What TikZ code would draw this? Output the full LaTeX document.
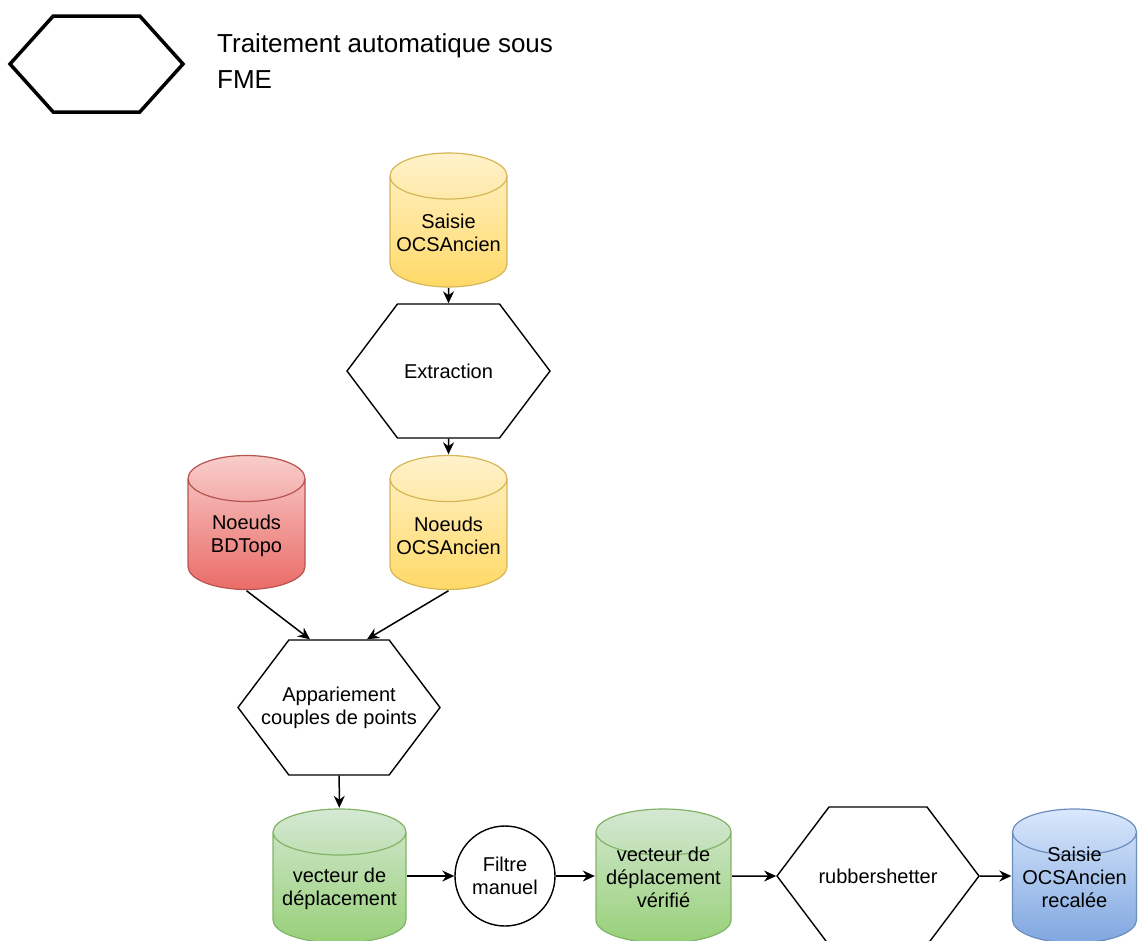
\documentclass[tikz,border=0pt]{standalone}
\usepackage{fontspec}
\setmainfont{Liberation Sans}
\usetikzlibrary{arrows.meta,shapes.symbols,calc}

\definecolor{yelTop}{HTML}{FFF2CC}
\definecolor{yelBot}{HTML}{FFD966}
\definecolor{yelLine}{HTML}{D6B656}
\definecolor{redTop}{HTML}{F8CECC}
\definecolor{redBot}{HTML}{EA6B66}
\definecolor{redLine}{HTML}{B85450}
\definecolor{grnTop}{HTML}{D5E8D4}
\definecolor{grnBot}{HTML}{97D077}
\definecolor{grnLine}{HTML}{82B366}
\definecolor{bluTop}{HTML}{DAE8FC}
\definecolor{bluBot}{HTML}{7EA6E0}
\definecolor{bluLine}{HTML}{6C8EBF}

\newcommand{\flowfont}{\fontsize{20}{23}\selectfont}
\newcommand{\dbbody}[1]{%
  \path[top color=#1Top, bottom color=#1Bot, draw=#1Line, line width=1.2pt]
    let \p1=(path picture bounding box.north west),
        \p2=(path picture bounding box.south east),
        \n1={(\x2-\x1)/2-1pt} in
    (\x1+1pt,\y1-24pt) -- (\x1+1pt,\y2+24pt)
    arc[start angle=180, end angle=360, x radius=\n1, y radius=23pt]
    -- (\x2-1pt,\y1-24pt)
    arc[start angle=0, end angle=180, x radius=\n1, y radius=23pt] -- cycle
    (\x1+1pt,\y1-24pt)
    arc[start angle=180, end angle=360, x radius=\n1, y radius=23pt];}

\begin{document}
\begin{tikzpicture}[
  x=1pt, y=-1pt,
  proc/.style={draw, signal, signal to=west and east, signal pointer angle=106,
               minimum width=203pt, minimum height=134pt,
               inner xsep=-30pt, inner ysep=0pt,
               line width=1.4pt, font=\flowfont, align=center},
  db/.style={minimum width=119pt, minimum height=136pt, inner sep=0pt,
             align=center, font=\flowfont, text height=64pt,
             path picture={\dbbody{#1}}},
  filt/.style={draw, circle, minimum size=100pt, inner sep=0pt,
               line width=1.4pt, font=\flowfont, align=center},
  arr/.style={-{Stealth[length=12pt, width=11pt]}, line width=1.5pt}]

\useasboundingbox (0,0) rectangle (1139,940);

\node[proc, line width=3.5pt, minimum width=173pt, minimum height=96pt,
      signal pointer angle=96] (leg) at (96.5,64) {};
\node[anchor=north west, inner sep=0pt, align=left,
      font=\fontsize{26}{36}\selectfont] (legtxt) at (217,33)
      {Traitement automatique sous\\FME};

\node[db=yel] (sai) at (448.5,220)   {Saisie\\OCSAncien};
\node[proc]   (ext) at (448.5,371)   {Extraction};
\node[db=red] (bd)  at (246.5,522.5) {Noeuds\\BDTopo};
\node[db=yel] (no)  at (448.5,522.5) {Noeuds\\OCSAncien};
\node[proc, minimum width=202pt, minimum height=135pt]
              (app) at (339,707.5)   {Appariement\\couples de points};
\node[db=grn, minimum width=135pt]
              (vec) at (339.5,876)   {vecteur de\\déplacement};
\node[filt]   (fil) at (505,876)     {Filtre\\manuel};
\node[db=grn, minimum width=137pt]
              (ver) at (663.5,876)   {vecteur de\\déplacement\\vérifié};
\node[proc, minimum width=202pt, minimum height=138pt]
              (rub) at (878,876)     {rubbershetter};
\node[db=blu, minimum width=126pt]
              (rec) at (1074.5,876)  {Saisie\\OCSAncien\\recalée};

\draw[arr] (sai) -- (ext);
\draw[arr] (ext) -- (no);
\draw[arr] (bd.south) -- ([xshift=-29pt]app.north);
\draw[arr] (no.south) -- ([xshift=28pt]app.north);
\draw[arr] (app) -- (vec);
\draw[arr] (vec) -- (fil);
\draw[arr] (fil) -- (ver);
\draw[arr] (ver) -- (rub);
\draw[arr] (rub) -- (rec);
\end{tikzpicture}
\end{document}
